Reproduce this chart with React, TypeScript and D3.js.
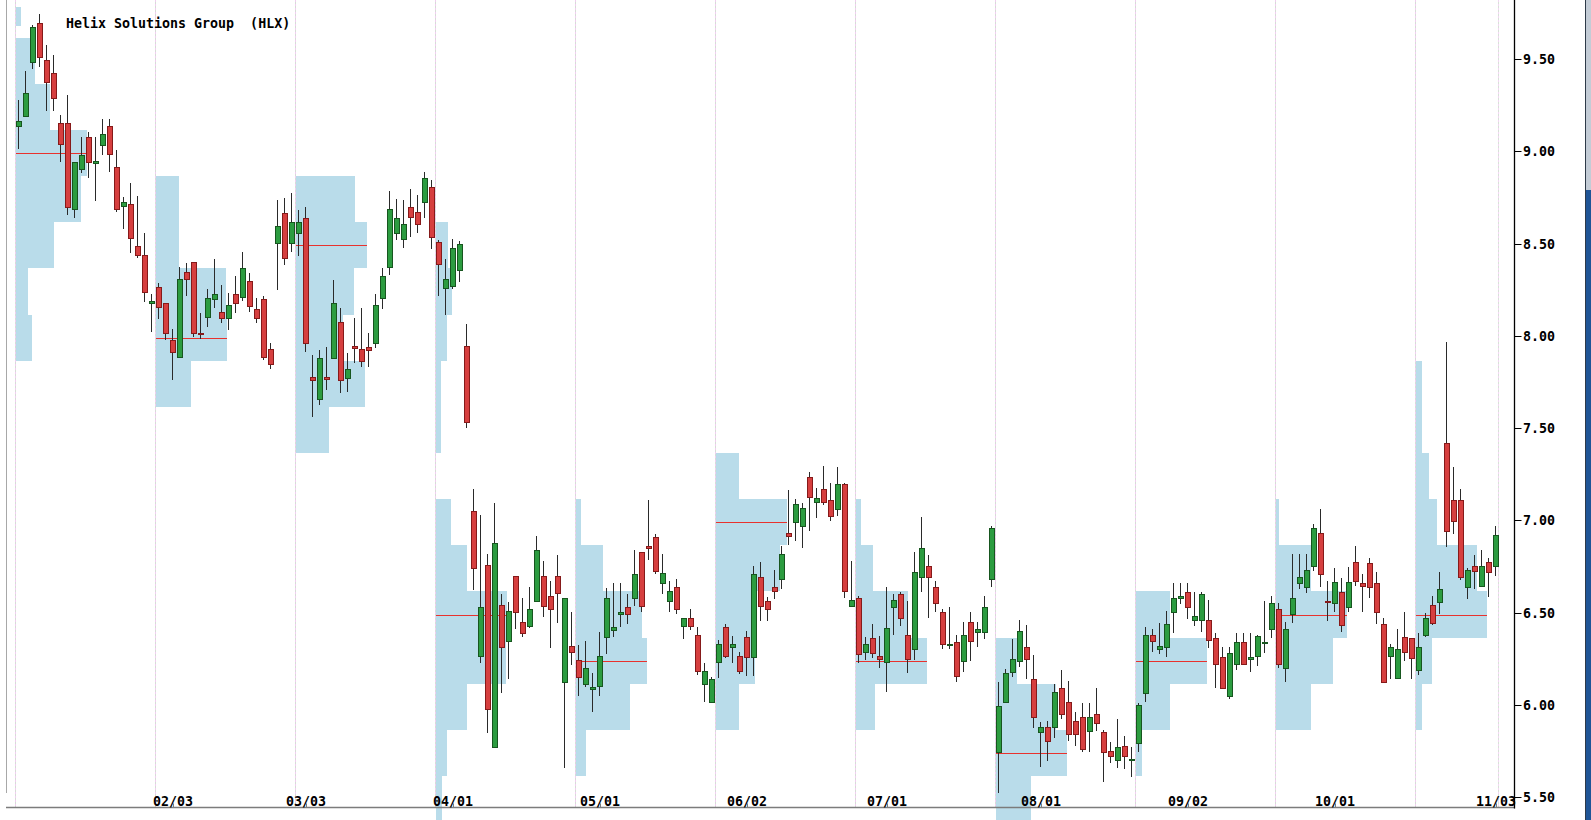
import React from 'react';
import * as d3 from 'd3';

const W = 1591;
const H = 820;

const title = 'Helix Solutions Group  (HLX)';

const opens = [
  9.136, 9.192, 9.481, 9.693, 9.492, 9.422, 9.151, 9.151, 8.685, 8.902,
  9.075, 8.934, 9.032, 9.136, 8.913, 8.703, 8.714, 8.486, 8.436, 8.176,
  8.263, 8.176, 7.977, 7.884, 8.344, 8.401, 8.014, 8.103, 8.199, 8.127,
  8.095, 8.225, 8.212, 8.297, 8.143, 8.198, 7.927, 8.504, 8.664, 8.504,
  8.555, 8.636, 7.775, 7.656, 7.778, 7.878, 8.076, 7.774, 7.945, 7.926,
  7.937, 7.963, 8.203, 8.374, 8.555, 8.523, 8.700, 8.672, 8.723, 8.804,
  8.507, 8.257, 8.271, 8.354, 7.945, 7.051, 6.267, 6.758, 5.771, 6.542,
  6.348, 6.699, 6.448, 6.430, 6.565, 6.699, 6.591, 6.699, 6.126, 6.320,
  6.244, 6.112, 6.088, 6.101, 6.370, 6.406, 6.493, 6.529, 6.578, 6.827,
  6.863, 6.908, 6.659, 6.565, 6.638, 6.430, 6.470, 6.379, 6.112, 6.018,
  6.231, 6.421, 6.313, 6.267, 6.370, 6.258, 6.695, 6.565, 6.638, 6.681,
  6.930, 6.990, 6.970, 7.237, 7.098, 7.168, 7.111, 7.060, 7.196, 6.538,
  6.578, 6.289, 6.361, 6.267, 6.231, 6.529, 6.601, 6.379, 6.302, 6.695,
  6.753, 6.638, 6.502, 6.325, 6.340, 6.240, 6.448, 6.397, 6.397, 6.681,
  5.747, 6.018, 6.180, 6.240, 6.313, 6.141, 5.852, 5.879, 5.879, 6.090,
  6.018, 5.913, 5.933, 5.861, 5.950, 5.852, 5.751, 5.702, 5.780, 5.701,
  5.793, 6.063, 6.379, 6.302, 6.313, 6.502, 6.578, 6.611, 6.460, 6.460,
  6.460, 6.361, 6.258, 6.050, 6.220, 6.340, 6.248, 6.267, 6.335, 6.410,
  6.518, 6.199, 6.493, 6.659, 6.638, 6.753, 6.930, 6.565, 6.551, 6.611,
  6.529, 6.776, 6.659, 6.768, 6.659, 6.439, 6.267, 6.148, 6.370, 6.361,
  6.190, 6.379, 6.542, 6.560, 7.418, 7.111, 7.111, 6.638, 6.753, 6.646,
  6.776, 6.755,
];

const highs = [
  9.277, 9.434, 9.684, 9.743, 9.575, 9.521, 9.196, 9.304, 8.943, 9.078,
  9.106, 9.078, 9.174, 9.174, 9.006, 8.750, 8.829, 8.760, 8.555, 8.226,
  8.284, 8.178, 8.035, 8.374, 8.396, 8.401, 8.122, 8.252, 8.414, 8.275,
  8.230, 8.324, 8.454, 8.338, 8.203, 8.215, 7.959, 8.736, 8.745, 8.773,
  8.681, 8.699, 7.896, 7.923, 7.941, 8.302, 8.149, 7.908, 8.094, 8.149,
  8.013, 8.225, 8.365, 8.784, 8.739, 8.736, 8.794, 8.762, 8.889, 8.842,
  8.521, 8.416, 8.524, 8.513, 8.064, 7.170, 7.029, 6.818, 7.096, 6.601,
  6.560, 6.700, 6.578, 6.641, 6.915, 6.780, 6.672, 6.812, 6.578, 6.504,
  6.325, 6.347, 6.172, 6.394, 6.636, 6.663, 6.663, 6.601, 6.840, 6.830,
  7.110, 6.926, 6.818, 6.672, 6.683, 6.471, 6.518, 6.421, 6.226, 6.150,
  6.352, 6.439, 6.375, 6.285, 6.402, 6.753, 6.773, 6.587, 6.731, 6.863,
  7.165, 7.116, 7.093, 7.264, 7.174, 7.295, 7.201, 7.291, 7.201, 6.780,
  6.590, 6.367, 6.439, 6.374, 6.638, 6.601, 6.614, 6.563, 6.827, 7.020,
  6.813, 6.672, 6.518, 6.533, 6.379, 6.451, 6.502, 6.451, 6.590, 6.970,
  6.126, 6.195, 6.356, 6.460, 6.433, 6.271, 5.910, 5.913, 6.114, 6.190,
  6.130, 5.960, 6.009, 6.009, 6.090, 5.865, 5.801, 5.923, 5.832, 5.771,
  6.012, 6.421, 6.410, 6.446, 6.511, 6.659, 6.663, 6.663, 6.611, 6.611,
  6.569, 6.388, 6.316, 6.316, 6.388, 6.392, 6.392, 6.379, 6.563, 6.590,
  6.554, 6.451, 6.818, 6.818, 6.818, 6.981, 7.062, 6.672, 6.741, 6.686,
  6.749, 6.861, 6.710, 6.795, 6.719, 6.470, 6.330, 6.410, 6.505, 6.362,
  6.388, 6.497, 6.590, 6.719, 7.965, 7.291, 7.170, 6.741, 6.813, 6.840,
  6.795, 6.970,
];

const lows = [
  9.012, 9.190, 9.444, 9.458, 9.219, 9.219, 8.943, 8.654, 8.636, 8.880,
  8.856, 8.732, 8.979, 8.889, 8.672, 8.580, 8.450, 8.420, 8.185, 8.022,
  8.090, 7.977, 7.761, 7.884, 8.217, 7.996, 7.981, 8.049, 8.150, 8.068,
  8.031, 8.125, 8.190, 8.130, 8.070, 7.868, 7.818, 8.248, 8.383, 8.454,
  8.434, 7.914, 7.562, 7.625, 7.706, 7.878, 7.688, 7.697, 7.852, 7.830,
  7.832, 7.936, 8.143, 8.329, 8.519, 8.474, 8.534, 8.559, 8.636, 8.469,
  8.217, 8.113, 8.253, 8.293, 7.502, 6.623, 6.226, 5.847, 5.771, 6.063,
  6.139, 6.412, 6.367, 6.419, 6.565, 6.478, 6.310, 6.443, 5.657, 6.217,
  6.050, 6.100, 5.960, 6.050, 6.275, 6.370, 6.424, 6.438, 6.538, 6.502,
  6.785, 6.710, 6.600, 6.505, 6.491, 6.356, 6.406, 6.163, 6.018, 6.018,
  6.148, 6.253, 6.226, 6.166, 6.159, 6.159, 6.457, 6.457, 6.573, 6.630,
  6.867, 6.888, 6.849, 6.944, 7.011, 7.083, 6.998, 7.025, 6.581, 6.538,
  6.226, 6.244, 6.253, 6.199, 6.068, 6.379, 6.430, 6.172, 6.244, 6.614,
  6.470, 6.505, 6.302, 6.302, 6.126, 6.180, 6.240, 6.316, 6.358, 6.638,
  5.522, 6.018, 6.153, 6.208, 6.139, 5.874, 5.663, 5.698, 5.820, 5.924,
  5.807, 5.780, 5.744, 5.747, 5.861, 5.581, 5.684, 5.660, 5.652, 5.612,
  5.747, 6.018, 6.289, 6.276, 6.258, 6.388, 6.547, 6.464, 6.428, 6.394,
  6.307, 6.090, 6.090, 6.031, 6.190, 6.220, 6.180, 6.211, 6.280, 6.361,
  6.199, 6.126, 6.446, 6.627, 6.608, 6.728, 6.638, 6.457, 6.505, 6.397,
  6.505, 6.645, 6.505, 6.578, 6.439, 6.123, 6.139, 6.139, 6.240, 6.139,
  6.163, 6.370, 6.433, 6.493, 6.858, 6.926, 6.677, 6.574, 6.627, 6.638,
  6.587, 6.699,
];

const closes = [
  9.163, 9.314, 9.671, 9.512, 9.373, 9.290, 9.041, 8.699, 8.943, 8.979,
  8.943, 8.945, 9.091, 8.983, 8.685, 8.725, 8.531, 8.436, 8.236, 8.187,
  8.155, 8.014, 7.914, 8.306, 8.306, 8.014, 8.008, 8.203, 8.225, 8.095,
  8.167, 8.176, 8.366, 8.164, 8.095, 7.884, 7.846, 8.595, 8.423, 8.615,
  8.614, 7.963, 7.761, 7.878, 7.764, 8.176, 7.761, 7.820, 7.936, 7.865,
  7.924, 8.165, 8.324, 8.685, 8.636, 8.604, 8.642, 8.604, 8.853, 8.534,
  8.388, 8.306, 8.474, 8.495, 7.535, 6.741, 6.529, 5.980, 6.876, 6.316,
  6.509, 6.502, 6.388, 6.518, 6.840, 6.539, 6.518, 6.608, 6.578, 6.289,
  6.150, 6.199, 6.096, 6.267, 6.578, 6.421, 6.505, 6.491, 6.710, 6.538,
  6.849, 6.727, 6.717, 6.619, 6.518, 6.470, 6.430, 6.186, 6.184, 6.141,
  6.329, 6.267, 6.329, 6.186, 6.258, 6.708, 6.538, 6.518, 6.619, 6.816,
  6.917, 7.087, 7.066, 7.128, 7.120, 7.098, 7.025, 7.196, 6.619, 6.569,
  6.276, 6.329, 6.280, 6.248, 6.419, 6.569, 6.470, 6.248, 6.719, 6.849,
  6.692, 6.551, 6.329, 6.330, 6.159, 6.379, 6.348, 6.412, 6.529, 6.957,
  5.995, 6.172, 6.248, 6.401, 6.248, 5.933, 5.879, 5.805, 6.069, 5.950,
  5.841, 5.841, 5.760, 5.933, 5.901, 5.744, 5.724, 5.771, 5.724, 5.705,
  6.000, 6.379, 6.348, 6.320, 6.437, 6.578, 6.590, 6.529, 6.482, 6.601,
  6.352, 6.220, 6.090, 6.280, 6.340, 6.220, 6.258, 6.374, 6.340, 6.551,
  6.220, 6.410, 6.578, 6.692, 6.731, 6.957, 6.708, 6.560, 6.668, 6.433,
  6.668, 6.672, 6.646, 6.638, 6.505, 6.123, 6.316, 6.302, 6.289, 6.256,
  6.316, 6.470, 6.446, 6.627, 6.944, 6.998, 6.692, 6.731, 6.727, 6.755,
  6.719, 6.921,
];

// Month-start tick labels and the bar they sit on
const tickLabels = ['02/03', '03/03', '04/01', '05/01', '06/02', '07/01', '08/01', '09/02', '10/01', '11/03'];
const tickBars = [22, 41, 62, 83, 104, 124, 146, 167, 188, 211];

const priceTicks = [5.5, 6.0, 6.5, 7.0, 7.5, 8.0, 8.5, 9.0, 9.5];

// Bars per volume-profile period
const PERIOD = 20;
const BIN = 0.25;

// Volume profile per period: [price level, relative volume (%), optional bin height]
const profileP1 = [[9.74, 7, 0.1], [9.5, 27], [9.25, 48], [9.0, 100], [8.75, 92], [8.5, 54], [8.25, 17], [8.0, 23]];
const profileP2 = [[8.75, 33], [8.5, 33], [8.25, 99], [8.0, 100], [7.75, 50]];
const profileP3 = [[8.75, 83], [8.5, 100], [8.25, 82], [8.0, 66], [7.75, 98], [7.5, 46]];
const profileP4 = [[8.5, 17], [8.25, 22], [8.0, 15], [7.75, 7], [7.5, 7], [7.0, 21], [6.75, 44], [6.5, 100], [6.25, 99], [6.0, 44], [5.75, 15], [5.5, 8]];
const profileP5 = [[7.0, 7], [6.75, 38], [6.5, 94], [6.25, 100], [6.0, 76], [5.75, 14]];
const profileP6 = [[7.25, 33], [7.0, 100], [6.75, 91], [6.5, 55], [6.25, 55], [6.0, 33]];
const profileP7 = [[7.0, 7], [6.75, 24], [6.5, 73], [6.25, 100], [6.0, 27]];
const profileP8 = [[6.25, 29], [6.0, 85], [5.75, 100], [5.5, 49]];
const profileP9 = [[6.5, 48], [6.25, 100], [6.0, 48], [5.75, 8]];
const profileP10 = [[7.0, 4], [6.75, 50], [6.5, 100], [6.25, 80], [6.0, 50]];
const profileP11 = [[7.75, 9], [7.5, 9], [7.25, 18], [7.0, 29], [6.75, 86], [6.5, 100], [6.25, 22], [6.0, 9]];
const profiles = [profileP1, profileP2, profileP3, profileP4, profileP5, profileP6, profileP7, profileP8, profileP9, profileP10, profileP11];

const FONT = '"DejaVu Sans Mono", "Liberation Mono", monospace';

export default function App() {
  const n = opens.length;
  const x = d3.scaleLinear().domain([0, n - 1]).range([19, 1496]);
  const y = d3.scaleLinear().domain([5.5, 9.5]).range([797.3, 58.9]);
  const step = x(1) - x(0);
  const wScale = d3.scaleLinear().domain([0, 100]).range([0, step * PERIOD * 0.505]);
  const binShift = -0.01;

  const green = { fill: '#2c9c40', stroke: '#17561f' };
  const red = { fill: '#d63f3f', stroke: '#861a1a' };

  const axisBottom = 807.5;
  const axisRight = 1514.5;

  const seps = d3.range(profiles.length).map((k) => Math.floor(x(k * PERIOD - 0.5)) + 0.5);
  const endLine = Math.floor(x(n - 1)) + 2.5;

  return (
    <svg
      width={W}
      height={H}
      style={{ position: 'absolute', left: 0, top: 0, background: '#ffffff', overflow: 'hidden' }}
    >
      <rect x={0} y={0} width={W} height={H} fill="#ffffff" />

      {/* period separators */}
      {seps.map((sx, k) => (
        <g key={'sep' + k}>
          <line x1={sx} x2={sx} y1={0} y2={axisBottom} stroke="#f0cdf0" strokeWidth={1} strokeDasharray="2,2" />
          <line x1={sx} x2={sx} y1={2} y2={axisBottom} stroke="#d6ddd6" strokeWidth={1} strokeDasharray="2,2" />
        </g>
      ))}
      <line x1={endLine} x2={endLine} y1={0} y2={axisBottom} stroke="#f2d6f2" strokeWidth={1} strokeDasharray="2,2" />
      <line x1={endLine} x2={endLine} y1={2} y2={axisBottom} stroke="#d8e2d8" strokeWidth={1} strokeDasharray="2,2" />

      {/* volume profiles */}
      {profiles.map((prof, k) => {
        const x0 = seps[k] + 0.5;
        let maxIdx = 0;
        prof.forEach((b, i) => {
          if (b[1] > prof[maxIdx][1]) maxIdx = i;
        });
        const poc = prof[maxIdx];
        const pocY = Math.round(y(poc[0] + binShift)) + 0.5;
        return (
          <g key={'prof' + k}>
            {prof.map((b, i) => {
              const h = b[2] !== undefined ? b[2] : BIN;
              const c = b[0] + binShift;
              const yt = y(c + h / 2);
              const yb = y(c - h / 2);
              return (
                <rect
                  key={i}
                  x={x0}
                  y={Math.round(yt)}
                  width={Math.round(wScale(b[1]))}
                  height={Math.round(yb) - Math.round(yt)}
                  fill="#b9dcea"
                />
              );
            })}
            <line x1={x0} x2={x0 + Math.round(wScale(poc[1]))} y1={pocY} y2={pocY} stroke="#e8322e" strokeWidth={1} />
          </g>
        );
      })}

      {/* left border and bottom axis */}
      <line x1={6.5} x2={6.5} y1={0} y2={793} stroke="#a8a8a8" strokeWidth={1} />
      <line x1={6} x2={axisRight + 0.5} y1={axisBottom} y2={axisBottom} stroke="#7c7c7c" strokeWidth={1.3} />

      {/* candles */}
      {opens.map((o, i) => {
        const c = closes[i];
        const cx = Math.round(x(i));
        const up = c >= o;
        const col = up ? green : red;
        const yTop = y(Math.max(o, c));
        const yBot = y(Math.min(o, c));
        const bt = Math.round(yTop) + 0.5;
        const bh = Math.max(1, Math.round(yBot) - Math.round(yTop));
        return (
          <g key={'c' + i}>
            <line
              x1={cx - 0.5}
              x2={cx - 0.5}
              y1={Math.round(y(highs[i]))}
              y2={Math.round(y(lows[i]))}
              stroke="#2a2a2a"
              strokeWidth={1}
            />
            <rect x={cx - 2.5} y={bt} width={5} height={bh} fill={col.fill} stroke={col.stroke} strokeWidth={1} />
          </g>
        );
      })}

      {/* date ticks and labels */}
      {tickBars.map((b, i) => {
        const tx = Math.round(x(b)) + 0.5;
        return (
          <g key={'t' + i}>
            <line x1={tx} x2={tx} y1={axisBottom - 4} y2={axisBottom} stroke="#7c7c7c" strokeWidth={1} />
            <text
              x={Math.round(x(b))}
              y={806}
              textAnchor="middle"
              fontFamily={FONT}
              fontWeight="bold"
              fontSize={13.3}
              fill="#000"
            >
              {tickLabels[i]}
            </text>
          </g>
        );
      })}

      {/* right price axis */}
      <line x1={axisRight} x2={axisRight} y1={0} y2={axisBottom + 1} stroke="#000" strokeWidth={1.3} />
      {priceTicks.map((p, i) => {
        const ty = Math.round(y(p)) + 0.5;
        return (
          <g key={'p' + i}>
            <line x1={axisRight} x2={axisRight + 7} y1={ty} y2={ty} stroke="#000" strokeWidth={1} />
            <text
              x={axisRight + 8.5}
              y={ty + 4.8}
              fontFamily={FONT}
              fontWeight="bold"
              fontSize={13.3}
              fill="#000"
            >
              {p.toFixed(2)}
            </text>
          </g>
        );
      })}

      {/* title */}
      <text x={66} y={28.3} fontFamily={FONT} fontWeight="bold" fontSize={13.3} fill="#000" style={{ whiteSpace: 'pre' }}>
        {title}
      </text>

      {/* right window edge strip */}
      <line x1={1585.5} x2={1585.5} y1={0} y2={H} stroke="#2e3a48" strokeWidth={1} />
      <rect x={1586} y={0} width={5} height={190} fill="#c3ccd6" />
      <rect x={1586} y={190} width={5} height={H - 190} fill="#1f5596" />
    </svg>
  );
}
